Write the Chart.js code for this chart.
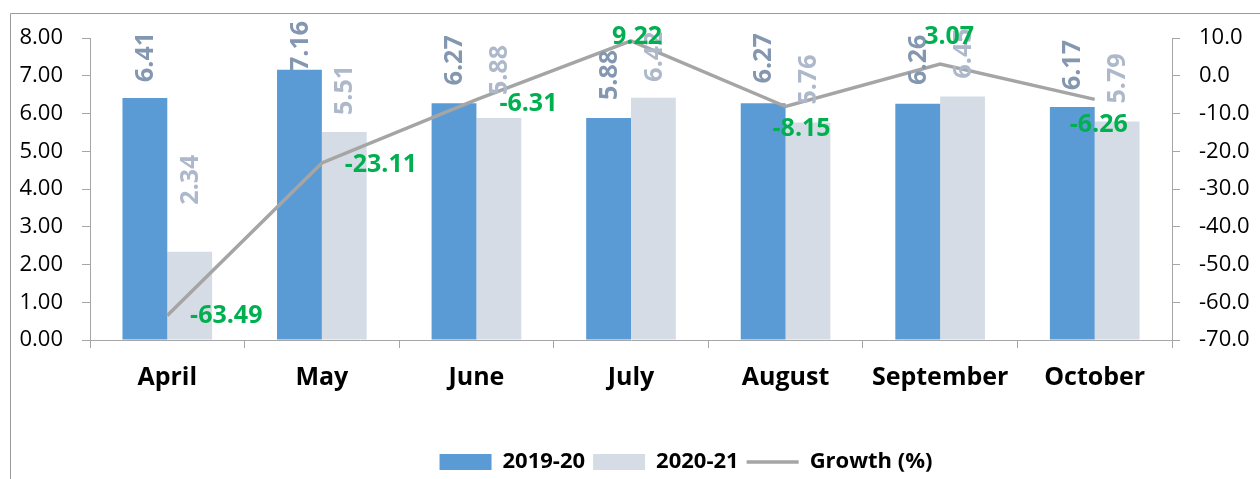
<!DOCTYPE html>
<html><head><meta charset="utf-8">
<script src="https://cdn.jsdelivr.net/npm/chart.js@4"></script>
<style>html,body{margin:0;padding:0;background:#fff}#wrap{width:1260px;height:479px;position:relative}canvas{display:block}</style>
</head><body><div id="wrap"><canvas id="c" width="1260" height="479"></canvas></div>
<script>
const categories = ['April', 'May', 'June', 'July', 'August', 'September', 'October'];
const series2019 = [6.41, 7.16, 6.27, 5.88, 6.27, 6.26, 6.17];
const series2020 = [2.34, 5.51, 5.88, 6.42, 5.76, 6.45, 5.79];
const growth = [-63.49, -23.11, -6.31, 9.22, -8.15, 3.07, -6.26];
const seriesNames = ['2019-20', '2020-21', 'Growth (%)'];
const leftAxis = {min: 0, max: 8, step: 1};
const rightAxis = {min: -70, max: 10, step: 10};

Chart.defaults.font.family = "'Open Sans', 'Noto Sans', sans-serif";

const framePlugin = {
  id: 'frame',
  beforeDraw(chart) {
    const ctx = chart.ctx;
    ctx.save();
    ctx.fillStyle = '#fff';
    ctx.fillRect(0, 0, chart.width, chart.height);
    ctx.strokeStyle = '#9a9a9a';
    ctx.lineWidth = 1;
    ctx.beginPath();
    ctx.moveTo(10.5, chart.height);
    ctx.lineTo(10.5, 13.5);
    ctx.lineTo(chart.width, 13.5);
    ctx.stroke();
    ctx.restore();
  }
};

const shiftLegend = {
  id: 'shiftLegend',
  afterLayout(chart) {
    const l = chart.legend;
    if (l) { l.left += 56; l.right += 56; }
  }
};

const labelPlugin = {
  id: 'valueLabels',
  afterDatasetsDraw(chart, args, opts) {
    const ctx = chart.ctx;
    ctx.save();
    ctx.font = 'bold 25px "Open Sans", "Noto Sans", sans-serif';
    [0, 1].forEach(di => {
      const meta = chart.getDatasetMeta(di);
      const data = chart.data.datasets[di].data;
      meta.data.forEach((el, i) => {
        const txt = data[i].toFixed(2);
        const w = ctx.measureText(txt).width;
        const gap = (opts.barGaps[di] && opts.barGaps[di][i]) || 18;
        let start = el.y - gap;
        if (start - w < opts.topLimit) start = opts.topLimit + w;
        ctx.save();
        ctx.translate(el.x + 1, start);
        ctx.rotate(-Math.PI / 2);
        ctx.fillStyle = opts.barColors[di];
        ctx.textAlign = 'left';
        ctx.textBaseline = 'middle';
        ctx.fillText(txt, 0, 0);
        ctx.restore();
      });
    });
    const meta = chart.getDatasetMeta(2);
    const data = chart.data.datasets[2].data;
    ctx.fillStyle = opts.growthColor;
    ctx.textAlign = 'center';
    ctx.textBaseline = 'alphabetic';
    meta.data.forEach((el, i) => {
      const off = opts.growthOffsets[i];
      let cy = el.y + off[1];
      if (cy < 35) cy = 35;
      ctx.fillText(data[i].toFixed(2), el.x + off[0], cy + 9);
    });
    ctx.restore();
  }
};

new Chart(document.getElementById('c'), {
  data: {
    labels: categories,
    datasets: [
      {type: 'bar', label: seriesNames[0], data: series2019, backgroundColor: '#5b9bd5', borderWidth: 0, yAxisID: 'y', order: 1, pointStyle: 'rect',
       categoryPercentage: 0.58, barPercentage: 1.0},
      {type: 'bar', label: seriesNames[1], data: series2020, backgroundColor: '#d6dce5', borderWidth: 0, yAxisID: 'y', order: 1, pointStyle: 'rect',
       categoryPercentage: 0.58, barPercentage: 1.0},
      {type: 'line', label: seriesNames[2], data: growth, borderColor: '#a5a5a5', backgroundColor: '#a5a5a5', borderWidth: 3.5,
       pointRadius: 0, pointHoverRadius: 0, pointStyle: 'line', tension: 0, yAxisID: 'y1', order: 0}
    ]
  },
  options: {
    responsive: false,
    animation: false,
    devicePixelRatio: 1,
    layout: {padding: {top: 38, left: 0, right: 0, bottom: -4}},
    plugins: {
      tooltip: {enabled: false},
      title: {display: false},
      legend: {
        position: 'bottom',
        labels: {
          usePointStyle: true, pointStyleWidth: 52, boxHeight: 16, padding: 8,
          color: '#000', font: {size: 22, weight: 'bold'},
          sort: (a, b) => a.datasetIndex - b.datasetIndex
        }
      },
      valueLabels: {
        topLimit: 21,
        barColors: ['#8497b0', '#adb9ca'],
        barGaps: [[16, 18, 18, 18, 20, 19, 17], [47, 17, 23, 16, 18, 18, 18]],
        growthColor: '#00b050',
        growthOffsets: [[59, -1], [59, 0], [52, 2], [6, -6], [16, 20], [9, -29], [4, 24]]
      }
    },
    scales: {
      x: {
        offset: true,
        grid: {display: true, drawOnChartArea: false, drawTicks: true, tickLength: 8, color: '#a6a6a6', offset: true},
        border: {display: true, color: '#a6a6a6'},
        ticks: {color: '#000', font: {size: 25, weight: 'bold'}, padding: 15, maxRotation: 0},
        afterFit: s => {
          const lg = s.chart.legend;
          s.height = s.chart.height + 4 - (lg && lg.height ? lg.height : 40) - 340;
        }
      },
      y: {
        position: 'left', min: leftAxis.min, max: leftAxis.max,
        grid: {display: true, drawOnChartArea: false, drawTicks: true, tickLength: 8, color: '#a6a6a6'},
        border: {display: true, color: '#a6a6a6'},
        ticks: {stepSize: leftAxis.step, color: '#000', font: {size: 22}, padding: 19, callback: v => Number(v).toFixed(2)},
        afterFit: s => { s.width = 90; }
      },
      y1: {
        position: 'right', min: rightAxis.min, max: rightAxis.max,
        grid: {display: true, drawOnChartArea: false, drawTicks: true, tickLength: 8, color: '#a6a6a6'},
        border: {display: true, color: '#a6a6a6'},
        ticks: {stepSize: rightAxis.step, color: '#000', font: {size: 22}, padding: 19, callback: v => Number(v).toFixed(1)},
        afterFit: s => { s.width = 88; }
      }
    }
  },
  plugins: [framePlugin, shiftLegend, labelPlugin]
});
</script>
</body></html>
